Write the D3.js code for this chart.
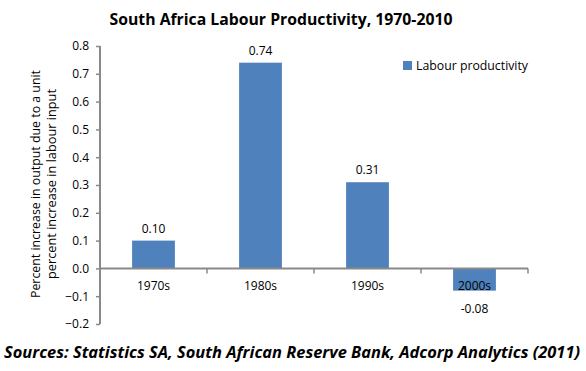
<!DOCTYPE html>
<html>
<head>
<meta charset="utf-8">
<script src="https://cdn.jsdelivr.net/npm/d3@7"></script>
<style>
  body { margin: 0; background: #fff; }
  text { font-family: "Open Sans", "Liberation Sans", sans-serif; fill: #000; }
</style>
</head>
<body>
<svg width="586" height="371"></svg>
<script>
var decades = ["1970s", "1980s", "1990s", "2000s"]
var productivity = [0.10, 0.74, 0.31, -0.08]
var valueLabels = ["0.10", "0.74", "0.31", "-0.08"]
var yTicks = [0.8, 0.7, 0.6, 0.5, 0.4, 0.3, 0.2, 0.1, 0.0, -0.1, -0.2]

var svg = d3.select("svg")
var plotLeft = 100, plotRight = 528, plotTop = 46, plotBottom = 324
var barColor = "#4f81bd"
var axisColor = "#898989"

var x = d3.scaleBand().domain(decades).range([plotLeft, plotRight]).paddingInner(0.6).paddingOuter(0.3)
var xCat = d3.scaleBand().domain(decades).range([plotLeft, plotRight])
var y = d3.scaleLinear().domain([-0.2, 0.8]).range([plotBottom, plotTop])

// title
svg.append("text")
	.attr("x", 281).attr("y", 25)
	.attr("text-anchor", "middle")
	.attr("textLength", 343).attr("lengthAdjust", "spacingAndGlyphs")
	.style("font-size", "16px").style("font-weight", "bold")
	.text("South Africa Labour Productivity, 1970-2010")

// bars
svg.append("g").selectAll("rect")
	.data(productivity)
	.enter()
	.append("rect")
	.attr("x", (d, i) => x(decades[i]))
	.attr("width", x.bandwidth())
	.attr("y", d => y(Math.max(0, d)))
	.attr("height", d => Math.abs(y(d) - y(0)))
	.style("fill", barColor)

// y axis
var yAxis = svg.append("g")
	.attr("transform", "translate(" + plotLeft + ",0)")
	.call(d3.axisLeft(y).tickValues(yTicks).tickFormat(d3.format(".1f")).tickSize(4).tickPadding(7))
yAxis.select(".domain").attr("stroke", axisColor).attr("stroke-width", 2).attr("d", "M0," + plotTop + "V" + plotBottom)
yAxis.selectAll(".tick line").attr("stroke", axisColor).attr("stroke-width", 1.5)
yAxis.selectAll(".tick text").style("font-size", "12px").style("font-family", "Open Sans, sans-serif")

// x axis along zero
var xAxis = svg.append("g")
	.attr("transform", "translate(0," + y(0) + ")")
	.call(d3.axisBottom(xCat).tickSize(0).tickPadding(13))
xAxis.select(".domain").attr("stroke", axisColor).attr("stroke-width", 2).attr("d", "M" + plotLeft + ",0H" + plotRight)
xAxis.selectAll(".tick text").style("font-size", "12px").style("font-family", "Open Sans, sans-serif")
// boundary tick marks between categories
xAxis.selectAll("line.sep")
	.data(decades)
	.enter()
	.append("line")
	.attr("class", "sep")
	.attr("x1", d => xCat(d) + xCat.bandwidth()).attr("x2", d => xCat(d) + xCat.bandwidth())
	.attr("y1", 0).attr("y2", 5)
	.attr("stroke", axisColor).attr("stroke-width", 1.5)

// value labels
svg.append("g").selectAll("text")
	.data(productivity)
	.enter()
	.append("text")
	.attr("x", (d, i) => x(decades[i]) + x.bandwidth() / 2)
	.attr("y", d => d >= 0 ? y(d) - 8 : y(d) + 22)
	.attr("text-anchor", "middle")
	.style("font-size", "12px")
	.text((d, i) => valueLabels[i])

// y axis title
var yTitle = svg.append("text")
	.attr("transform", "translate(40,184) rotate(-90)")
	.attr("text-anchor", "middle")
	.style("font-size", "12px")
yTitle.append("tspan").attr("x", 0).attr("y", 0).text("Percent increase in output due to a unit")
yTitle.append("tspan").attr("x", 0).attr("y", 16).text("percent increase in labour input")
yTitle.selectAll("tspan").attr("textLength", (d, i, n) => i == 0 ? 228 : 190).attr("lengthAdjust", "spacingAndGlyphs")

// legend
svg.append("rect").attr("x", 403).attr("y", 61).attr("width", 9).attr("height", 9).style("fill", barColor)
svg.append("text").attr("x", 416).attr("y", 70).style("font-size", "12px")
	.attr("textLength", 112).attr("lengthAdjust", "spacingAndGlyphs")
	.text("Labour productivity")

// source
svg.append("text")
	.attr("x", 4).attr("y", 358)
	.attr("textLength", 576).attr("lengthAdjust", "spacingAndGlyphs")
	.style("font-size", "16px").style("font-weight", "bold").style("font-style", "italic")
	.text("Sources: Statistics SA, South African Reserve Bank, Adcorp Analytics (2011)")
</script>
</body>
</html>
